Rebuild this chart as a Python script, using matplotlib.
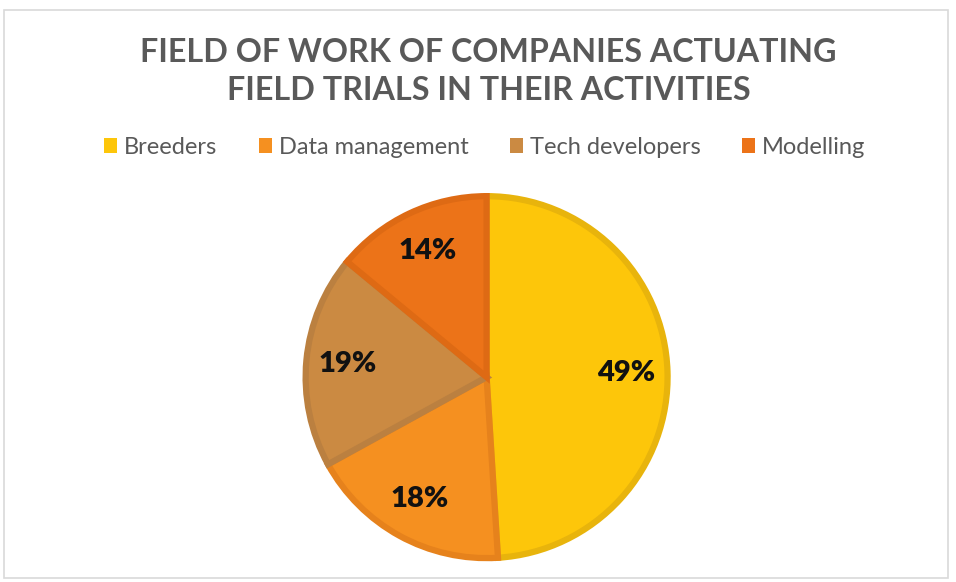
import matplotlib.pyplot as plt
from matplotlib.patches import Rectangle

categories = ['Breeders', 'Data management', 'Tech developers', 'Modelling']
shares = [49, 18, 19, 14]
colors = ['#FDC60A', '#F59020', '#CB8A42', '#EC7318']
edges = ['#E8B40C', '#E6821C', '#BB8040', '#DE6A14']

plt.rcParams['font.family'] = ['Lato', 'DejaVu Sans']

fig = plt.figure(figsize=(9.56, 5.82), dpi=100)
fig.patch.set_facecolor('white')

# light chart frame
fig.patches.append(Rectangle((0.004, 0.007), 0.988, 0.975, transform=fig.transFigure,
                             fill=False, edgecolor='#D9D9D9', linewidth=1.2))

fig.text(0.511, 0.91, 'FIELD OF WORK OF COMPANIES ACTUATING', ha='center', va='center',
         fontsize=23.2, color='#595959', fontweight='bold')
fig.text(0.511, 0.845, 'FIELD TRIALS IN THEIR ACTIVITIES', ha='center', va='center',
         fontsize=23.2, color='#595959', fontweight='bold')

ax = fig.add_axes([0.31, 0.0255, 0.398, 0.653])
wedges, texts, autotexts = ax.pie(
    shares, colors=colors, startangle=90, counterclock=False,
    autopct='%d%%', pctdistance=0.77, radius=1.0,
    wedgeprops=dict(linewidth=4.5),
    textprops=dict(fontsize=21, fontweight='heavy', color='#111111'))
for w, ec in zip(wedges, edges):
    w.set_edgecolor(ec)
ax.set_xlim(-1.05, 1.05)
ax.set_ylim(-1.05, 1.05)
ax.set_aspect('equal')

handles = [Rectangle((0, 0), 1, 1, facecolor=c) for c in colors]
fig.legend(handles, categories, loc='center', bbox_to_anchor=(0.507, 0.747), ncol=4,
           frameon=False, fontsize=17, labelcolor='#595959', handlelength=0.55,
           handleheight=0.55, handletextpad=0.3, columnspacing=1.75)

fig.savefig('out.png', dpi=100)
